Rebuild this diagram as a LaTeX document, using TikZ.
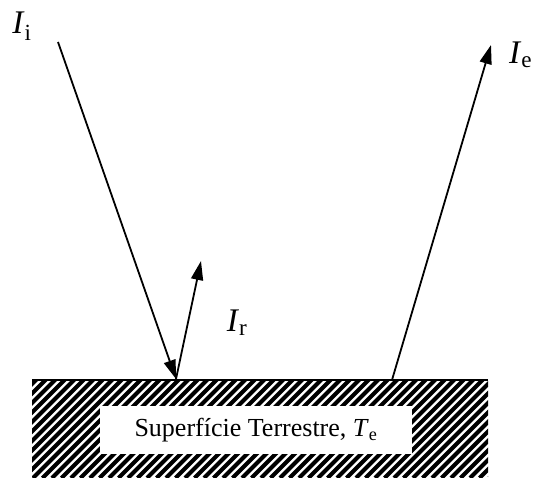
\documentclass[tikz,border=0pt]{standalone}
\usepackage{fontspec}
\setmainfont{Liberation Serif}
\usepackage{tikz}
\usetikzlibrary{arrows.meta}

\begin{document}
\begin{tikzpicture}[x=1pt,y=-1pt,
        ray/.style={line width=1.8pt,-{Triangle[length=19pt,width=12pt]}},
        lbl/.style={inner sep=0pt,font=\fontsize{33}{36}\selectfont}]

        \useasboundingbox(0,0)rectangle(533,478);

        %地面のハッチング
        \begin{scope}
            \clip(32,380)rectangle(488,478);
            \foreach \x in {-100,-90.5,...,500}{
                \draw[line width=3.9pt](\x,478)--(\x+100,378);
            }
        \end{scope}
        \draw[line width=2pt](32,380)--(488,380); %地面の線
        \node[fill=white,minimum width=312pt,minimum height=48pt](surf)at(256,430)
            {\fontsize{26}{30}\selectfont Superfície Terrestre, \textit{T}\textsubscript{e}};

        %光線
        \coordinate(src)at(58,42);
        \coordinate(hitI)at(176,379);
        \coordinate(tipR)at(201,261);
        \coordinate(hitE)at(392,380);
        \coordinate(tipE)at(491,45);
        \draw[ray](src)--(hitI);
        \draw[ray](hitI)--(tipR);
        \draw[ray](hitE)--(tipE);

        %文字
        \node[lbl](Ii)at(22,26){\textit{I}\textsubscript{i}};
        \node[lbl](Ir)at(237,323){\textit{I}\textsubscript{r}};
        \node[lbl,anchor=west](Ie)at(509,55){\textit{I}\textsubscript{e}};
    \end{tikzpicture}
\end{document}
